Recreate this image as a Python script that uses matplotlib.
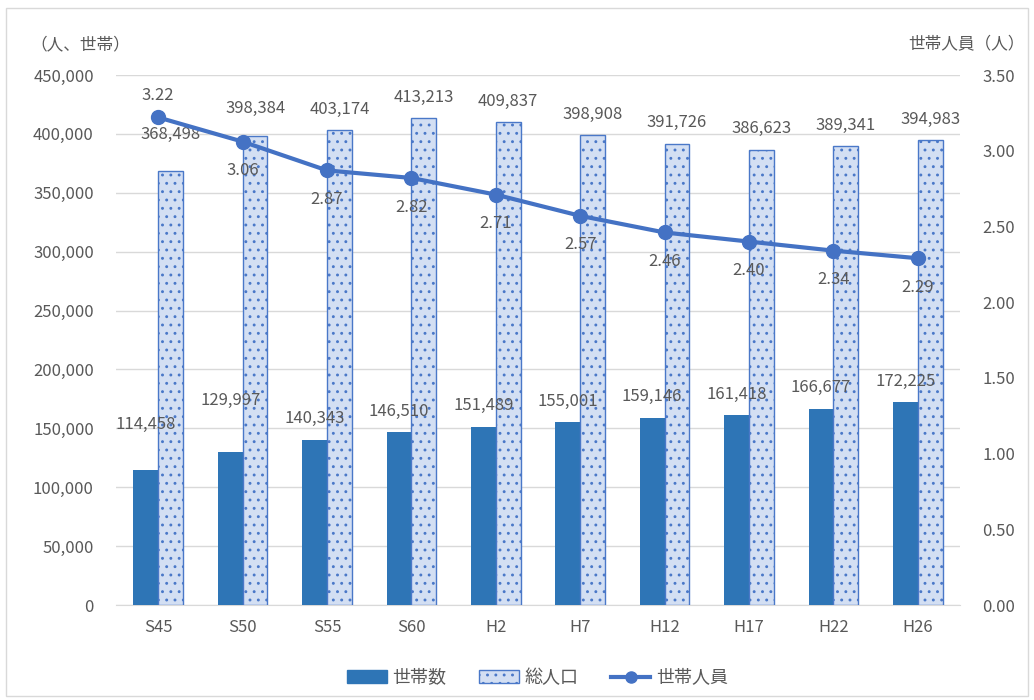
import matplotlib
matplotlib.use("Agg")
import matplotlib.pyplot as plt
import numpy as np
from matplotlib.patches import Rectangle
from matplotlib.lines import Line2D

plt.rcParams['font.family'] = ['Noto Sans CJK JP', 'DejaVu Sans']
plt.rcParams['hatch.linewidth'] = 0.9

categories = ["S45", "S50", "S55", "S60", "H2", "H7", "H12", "H17", "H22", "H26"]
households = [114458, 129997, 140343, 146510, 151489, 155001, 159146, 161418, 166677, 172225]
population = [368498, 398384, 403174, 413213, 409837, 398908, 391726, 386623, 389341, 394983]
persons_per_household = [3.22, 3.06, 2.87, 2.82, 2.71, 2.57, 2.46, 2.40, 2.34, 2.29]

left_ticks = list(range(0, 450001, 50000))
right_ticks = [0, 0.5, 1.0, 1.5, 2.0, 2.5, 3.0, 3.5]

TXT = '#595959'
BLUE = '#2e75b6'
LINE = '#4472c4'
FS = 12

fig = plt.figure(figsize=(10.34, 7.0), dpi=100)
fig.patches.append(Rectangle((0.006, 0.006), 0.988, 0.982, transform=fig.transFigure,
                             fill=False, edgecolor='#d9d9d9', linewidth=1.0))
ax = fig.add_axes([116/1034, 1-605/700, (960-116)/1034, (605-75)/700])
ax2 = ax.twinx()

x = np.arange(len(categories))
w = 0.295
ax.bar(x - w/2, households, w, color=BLUE, zorder=3)
ax.bar(x + w/2, population, w, facecolor='#d3dff3', edgecolor='#4a78c8',
       hatch='..', linewidth=1.0, zorder=3)

ax.set_xlim(-0.5, len(categories) - 0.5)
ax.set_ylim(0, 450000)
ax.set_yticks(left_ticks)
ax.set_yticklabels([f"{v:,}" for v in left_ticks])
ax.grid(axis='y', color='#d9d9d9', linewidth=1.0, zorder=0)
ax.set_axisbelow(True)
for s in ['top', 'right', 'left']:
    ax.spines[s].set_visible(False)
ax.spines['bottom'].set_color('#d9d9d9')
ax.tick_params(axis='both', length=0, colors=TXT, labelsize=FS)
ax.tick_params(axis='y', pad=16)
ax.tick_params(axis='x', pad=10)
ax.set_xticks(x)
ax.set_xticklabels(categories)

ax2.set_ylim(0, 3.5)
ax2.set_yticks(right_ticks)
ax2.set_yticklabels([f"{v:.2f}" for v in right_ticks])
for s in ['top', 'right', 'left', 'bottom']:
    ax2.spines[s].set_visible(False)
ax2.tick_params(axis='y', length=0, colors=TXT, labelsize=FS, pad=16)

ax2.plot(x, persons_per_household, color=LINE, linewidth=3, marker='o',
         markersize=10, zorder=5)

# data label offsets (points)
hh_off = {0: 33, 1: 37}
pop_off = {0: 26, 1: 20}
for i in range(len(categories)):
    ax.annotate(f"{households[i]:,}", (x[i] - w/2, households[i]),
                xytext=(0, hh_off.get(i, 15)), textcoords='offset points',
                ha='center', va='center', fontsize=FS, color=TXT, zorder=6)
    ax.annotate(f"{population[i]:,}", (x[i] + w/2, population[i]),
                xytext=(0, pop_off.get(i, 15)), textcoords='offset points',
                ha='center', va='center', fontsize=FS, color=TXT, zorder=6)
    dy = 16 if i == 0 else -21
    ax2.annotate(f"{persons_per_household[i]:.2f}", (x[i], persons_per_household[i]),
                 xytext=(0, dy), textcoords='offset points',
                 ha='center', va='center', fontsize=FS, color=TXT, zorder=6)

fig.text(30/1034, 1-45/700, "（人、世帯）", fontsize=FS, color=TXT, ha='left', va='center')
fig.text(1025/1034, 1-45/700, "世帯人員（人）", fontsize=FS, color=TXT, ha='right', va='center')

handles = [Rectangle((0, 0), 1, 1, color=BLUE),
           Rectangle((0, 0), 1, 1, facecolor='#d3dff3', edgecolor='#4a78c8', hatch='..'),
           Line2D([0], [0], color=LINE, linewidth=3, marker='o', markersize=8)]
fig.legend(handles, ["世帯数", "総人口", "世帯人員"], loc='center', bbox_to_anchor=(0.52, 1-678/700),
           ncol=3, frameon=False, fontsize=13, labelcolor=TXT, handlelength=2.2,
           columnspacing=1.8, handletextpad=0.3)

fig.savefig("out.png", dpi=100, facecolor='white')
